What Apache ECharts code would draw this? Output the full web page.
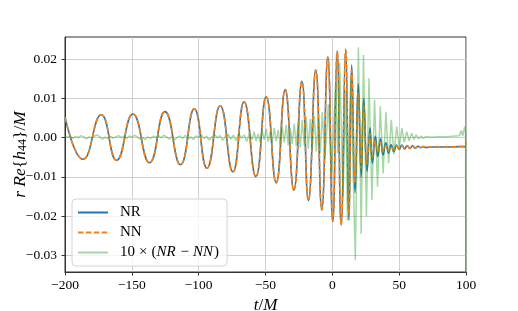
<!DOCTYPE html>
<html><head><meta charset="utf-8">
<script src="https://cdn.jsdelivr.net/npm/echarts@6/dist/echarts.min.js"></script>
<style>html,body{margin:0;padding:0;background:#fff}#c{width:518px;height:311px}</style>
</head><body><div id="c"></div>
<script>
// time of extrema of the waveform (t/M)
const tWave = [-200, -186.5, -172.9, -161.4, -149.2, -136.8, -125.2, -113.6, -103.3, -93.8,
  -83.9, -74.4, -66.0, -57.2, -49.5, -42.0, -35.3, -28.8, -22.8, -17.9,
  -12.4, -7.9, -3.4, 0.3, 3.6, 6.6, 10.0, 12.4, 14.5, 17.0,
  19.4, 21.6, 23.5, 26.0, 28.2, 30.0, 32.2, 34.0, 36.0, 38.0,
  40.0, 42.1, 44.0, 46.0, 48.0, 50.0, 52.0, 54.0, 56.0, 58.0,
  60.0, 62.0, 64.0, 66.0, 68.0, 70.0, 76, 85, 95, 99.5, 100];
const nrValues = [0.0052, -0.0055, 0.0058, -0.0058, 0.0060, -0.0064, 0.0066, -0.0069, 0.0073, -0.0078,
  0.0081, -0.0087, 0.0091, -0.0099, 0.0104, -0.0115, 0.0122, -0.0134, 0.0143, -0.0160,
  0.0172, -0.0184, 0.0205, -0.0214, 0.0221, -0.0222, 0.0225, -0.0210, 0.0185, -0.0141,
  0.0137, -0.0100, 0.0100, -0.0086, 0.0025, -0.0065, 0.0003, -0.0048, -0.0003, -0.0044,
  -0.0013, -0.0040, -0.0018, -0.0036, -0.0019, -0.0030, -0.0019, -0.0029, -0.0020, -0.0028,
  -0.0021, -0.0027, -0.0022, -0.0026, -0.0023, -0.0025, -0.0024, -0.0024, -0.0023, -0.0023, -0.0023];
const nnValues = [0.0052, -0.0055, 0.0058, -0.0058, 0.0060, -0.0064, 0.0066, -0.0069, 0.0073, -0.0078,
  0.0081, -0.0087, 0.0091, -0.0099, 0.0104, -0.0115, 0.0122, -0.0134, 0.0143, -0.0160,
  0.0172, -0.0184, 0.0205, -0.0213, 0.0220, -0.0222, 0.0224, -0.0195, 0.0172, -0.0112,
  0.0115, -0.0078, 0.0080, -0.0066, 0.0010, -0.0050, -0.0007, -0.0036, -0.0011, -0.0035,
  -0.0020, -0.0034, -0.0023, -0.0032, -0.0021, -0.0028, -0.0020, -0.0027, -0.0021, -0.0027,
  -0.0022, -0.0026, -0.0022, -0.0025, -0.0023, -0.0024, -0.0024, -0.0024, -0.0023, -0.0022, -0.0012];
// 10 x (NR - NN)
const tDiff = [-200, -198, -196, -194, -192, -190, -188, -186, -184, -182,
  -180, -178, -176, -174, -172, -170, -168, -166, -164, -162,
  -160, -158, -156, -154, -152, -150, -148, -146, -144, -142,
  -140, -138, -136, -134, -132, -130, -128, -126, -124, -122,
  -120, -118, -116, -114, -112, -110, -108, -106, -104, -102,
  -100, -98, -96, -94, -92, -90, -88, -86, -84, -82,
  -80, -78, -76, -74, -72, -70, -68, -66, -64, -62,
  -60, -58.5, -57, -55.5, -54, -52.5, -51, -49.5, -48, -46.5,
  -45, -43.5, -42, -40.5, -39, -37.5, -36, -34.5, -33, -31.5,
  -30, -28.5, -27, -25.5, -24, -22.5, -21, -19.5, -18, -16.5,
  -15, -13.5, -12, -10.5, -9, -7.5, -5.5, -3, -0.5, 2.5,
  4, 5.5, 8, 10, 11.3, 13.8, 17.2, 19.5, 21.6, 23.3,
  25.5, 27.4, 29.6, 31.6, 33.8, 35.9, 38.0, 40.1, 42.1, 44.1,
  46.0, 48.2, 50.1, 52.0, 53.8, 55.7, 57.5, 59.4, 61.0, 62.7,
  64.5, 66.4, 68.2, 70, 74, 80, 86, 92, 95, 96.5,
  97.5, 99, 99.7, 100];
const diffValues = [0.0003, 0.0001, 0.0004, -0.0002, 0.0003, 0.0000, 0.0005, 0.0002, -0.0003, 0.0002,
  -0.0001, 0.0004, 0.0007, 0.0002, -0.0004, 0.0001, -0.0002, 0.0003, -0.0001, 0.0002,
  0.0005, 0.0000, 0.0003, -0.0002, 0.0004, 0.0001, 0.0006, 0.0002, -0.0003, 0.0001,
  -0.0005, 0.0002, -0.0002, 0.0004, 0.0000, 0.0005, -0.0001, 0.0006, 0.0002, -0.0004,
  0.0003, -0.0006, 0.0001, 0.0004, -0.0002, 0.0006, -0.0003, 0.0002, -0.0005, 0.0004,
  0.0001, 0.0007, -0.0002, 0.0003, -0.0006, 0.0002, 0.0008, -0.0001, 0.0005, -0.0007,
  0.0003, 0.0009, -0.0004, 0.0006, -0.0008, 0.0011, -0.0002, 0.0007, -0.0010, 0.0012,
  -0.0005, 0.0015, -0.0009, 0.0010, -0.0013, 0.0018, -0.0006, 0.0022, -0.0011, 0.0016,
  -0.0015, 0.0025, -0.0009, 0.0019, -0.0018, 0.0028, -0.0012, 0.0032, -0.0020, 0.0024,
  -0.0016, 0.0036, -0.0022, 0.0040, -0.0025, 0.0045, -0.0020, 0.0052, -0.0028, 0.0048,
  -0.0032, 0.0055, -0.0035, 0.0050, -0.0040, 0.0065, -0.0055, 0.0085, -0.0090, 0.0140,
  -0.0040, 0.0190, -0.0150, 0.0120, -0.0210, 0.0150, -0.0312, 0.0230, -0.0245, 0.0210,
  -0.0200, 0.0151, -0.0159, 0.0096, -0.0125, 0.0080, -0.0091, 0.0066, -0.0065, 0.0045,
  -0.0042, 0.0028, -0.0025, 0.0024, -0.0012, 0.0015, -0.0008, 0.0011, -0.0005, 0.0007,
  -0.0003, 0.0004, -0.0002, 0.0003, 0.0001, 0.0002, 0.0002, 0.0004, 0.0005, 0.0018,
  0.0004, 0.0028, 0.0010, -0.0400];
const xTickValues = [-200, -150, -100, -50, 0, 50, 100];
const yTickValues = [-0.03, -0.02, -0.01, 0.00, 0.01, 0.02];

const FONT = 'Liberation Serif';
const chart = echarts.init(document.getElementById('c'), null, {renderer: 'canvas'});
const minus = '\u2212';
const axisCommon = {
  axisLine: {show: true, onZero: false, lineStyle: {color: '#333', width: 1}},
  axisTick: {show: true, inside: false, length: 3.5, lineStyle: {color: '#333', width: 1}},
  splitLine: {show: true, lineStyle: {color: '#c4c4c4', width: 0.8}}
};
chart.setOption({
  animation: false,
  grid: {left: 65, right: 52, top: 37, bottom: 39, show: true, borderColor: '#333', borderWidth: 1,
    containLabel: false, outerBoundsMode: 'none'},
  xAxis: Object.assign({}, axisCommon, {
    type: 'value', min: -200, max: 100, interval: 50,
    axisLabel: {margin: 6, fontFamily: FONT, fontSize: 13.5, color: '#000',
      formatter: v => (v < 0 ? minus : '') + Math.abs(v)},
    name: '{i|t}/{i|M}', nameLocation: 'middle', nameGap: 19,
    nameTextStyle: {fontFamily: FONT, fontSize: 17, color: '#000',
      rich: {i: {fontFamily: FONT, fontSize: 17, fontStyle: 'italic', color: '#000'}}}
  }),
  yAxis: Object.assign({}, axisCommon, {
    type: 'value', min: -0.0342, max: 0.0256,
    axisTick: {show: true, inside: false, length: 3.5, lineStyle: {color: '#333', width: 1}, customValues: yTickValues},
    axisLabel: {margin: 8, fontFamily: FONT, fontSize: 13.5, color: '#000', customValues: yTickValues,
      formatter: v => (v < -1e-9 ? minus : '') + Math.abs(v).toFixed(2)},
    name: '{i|r Re}{{i|h}{s|44}}/{i|M}', nameLocation: 'middle', nameGap: 36, nameMoveOverlap: false,
    nameTextStyle: {fontFamily: FONT, fontSize: 17.5, color: '#000',
      rich: {i: {fontFamily: FONT, fontSize: 17.5, fontStyle: 'italic', color: '#000'},
             s: {fontFamily: FONT, fontSize: 12, color: '#000', verticalAlign: 'bottom', lineHeight: 12}}}
  }),
  legend: {
    orient: 'vertical', left: 72, top: 199, padding: [6, 8, 6, 5],
    itemWidth: 30, itemHeight: 14, itemGap: 5,
    borderColor: '#d4d4d4', borderWidth: 1, borderRadius: 4,
    backgroundColor: 'rgba(255,255,255,0.8)',
    itemStyle: {color: 'rgba(0,0,0,0)', borderWidth: 0, opacity: 0},
    data: ['NR', 'NN', 'diff'],
    formatter: n => n === 'diff' ? '{u|10}{o|×}{v|(}{i|NR}{o|−}{i|NN}{v|)}' : '{u|' + n + '}',
    textStyle: {fontFamily: FONT, fontSize: 15, color: '#000',
      rich: {u: {fontFamily: FONT, fontSize: 15, color: '#000', padding: [0, 0, 0, 7]},
             v: {fontFamily: FONT, fontSize: 15, color: '#000'},
             o: {fontFamily: FONT, fontSize: 15, color: '#000', padding: [0, 4, 0, 4]},
             i: {fontFamily: FONT, fontSize: 15, color: '#000', fontStyle: 'italic', padding: [0, 1, 0, 0]}}}
  },
  series: [
    {name: 'NR', type: 'line', smooth: true, symbol: 'none', clip: true,
      data: tWave.map((t, i) => [t, nrValues[i]]),
      lineStyle: {color: '#1f77b4', width: 1.6}, itemStyle: {color: '#1f77b4'}},
    {name: 'NN', type: 'line', smooth: true, symbol: 'none', clip: true,
      data: tWave.map((t, i) => [t, nnValues[i]]),
      lineStyle: {color: '#ff7f0e', width: 1.6, type: [5.5, 2.4]}, itemStyle: {color: '#ff7f0e'}},
    {name: 'diff', type: 'line', smooth: false, symbol: 'none', clip: true,
      data: tDiff.map((t, i) => [t, diffValues[i]]),
      lineStyle: {color: 'rgba(44,160,44,0.42)', width: 1.5}, itemStyle: {color: 'rgba(44,160,44,0.42)'}}
  ]
});
</script></body></html>
